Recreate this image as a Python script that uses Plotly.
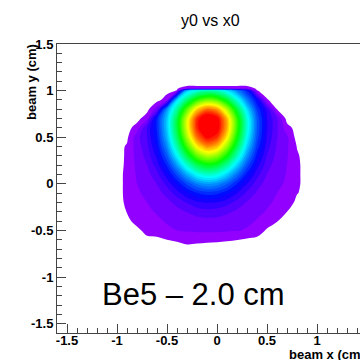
import colorsys
import plotly.graph_objects as go

# ---- data ----
x_bins = [-1.0, -0.9, -0.8, -0.7, -0.6, -0.5, -0.4, -0.3, -0.2, -0.1,
          0.0, 0.1, 0.2, 0.3, 0.4, 0.5, 0.6, 0.7, 0.8, 0.9]
y_bins = [-0.7, -0.6, -0.5, -0.4, -0.3, -0.2, -0.1, 0.0, 0.1, 0.2,
          0.3, 0.4, 0.5, 0.6, 0.7, 0.8, 0.9, 1.0, 1.02, 1.06]

row_m070 = [0, 0, 0, 0, 0, 0, 0, 0, 0, 0, 0, 0, 0, 0, 0, 0, 0, 0, 0, 0]
row_m060 = [0, 0, 0, 0, 0, 1.0, 1.25, 2.0, 1.7, 1.45, 1.35, 1.2, 1.05, 0.6, 0, 0, 0, 0, 0, 0]
row_m050 = [0, 0, 0, 2.3, 3.1, 3.3, 3.5, 3.7, 3.9, 4.0, 4.0, 3.8, 3.6, 3.35, 3.2, 0.45, 0, 0, 0, 0]
row_m040 = [0, 0, 2.3, 3.1, 3.3, 3.6, 4.0, 4.5, 5.0, 5.2, 5.1, 4.7, 4.2, 3.8, 3.4, 3.2, 1.1, 0, 0, 0]
row_m030 = [0, 1.1, 3.1, 3.3, 3.6, 4.2, 5.1, 6.1, 7.0, 7.4, 7.2, 6.5, 5.5, 4.5, 3.8, 3.4, 3.15, 1.0, 0, 0]
row_m020 = [0, 1.5, 3.2, 3.5, 4.1, 5.2, 6.8, 8.7, 10.4, 11.2, 10.8, 9.5, 7.6, 5.8, 4.5, 3.7, 3.3, 3.1, 0, 0]
row_m010 = [0, 1.7, 3.3, 3.8, 4.9, 6.9, 9.7, 13.0, 15.8, 17.2, 16.6, 14.2, 11.0, 7.9, 5.6, 4.2, 3.5, 3.2, 1.15, 0]
row_p000 = [0, 1.7, 3.5, 4.3, 6.1, 9.3, 13.9, 19.2, 23.8, 26.1, 25.1, 21.2, 16.0, 11.0, 7.2, 4.9, 3.8, 3.3, 1.5, 0]
row_p010 = [0, 1.7, 3.8, 5.0, 7.7, 12.5, 19.5, 27.5, 34.6, 38.0, 36.5, 30.6, 22.7, 15.1, 9.4, 5.9, 4.2, 3.4, 1.5, 0]
row_p020 = [0, 1.5, 4.1, 5.9, 9.7, 16.4, 26.3, 37.7, 47.6, 52.5, 50.3, 42.0, 30.8, 20.1, 12.0, 7.1, 4.6, 3.5, 1.5, 0]
row_p030 = [0, 1.4, 4.4, 6.8, 11.8, 20.7, 33.7, 48.7, 61.8, 68.2, 65.4, 54.5, 39.6, 25.5, 14.9, 8.4, 5.2, 3.7, 1.3, 0]
row_p040 = [0, 1.3, 4.7, 7.7, 13.9, 24.8, 40.8, 59.3, 75.4, 83.3, 79.8, 66.4, 48.1, 30.7, 17.7, 9.7, 5.7, 3.9, 0.9, 0]
row_p050 = [0, 0.5, 5.0, 8.4, 15.5, 28.1, 46.4, 67.7, 86.2, 95.2, 91.2, 75.8, 54.8, 34.8, 19.8, 10.7, 6.1, 4.0, 0, 0]
row_p060 = [0, 0, 2.2, 8.7, 16.4, 29.9, 49.5, 72.3, 92.1, 101.8, 97.5, 81.0, 58.5, 37.1, 21.0, 11.2, 6.3, 2.0, 0, 0]
row_p070 = [0, 0, 0, 2.7, 16.2, 29.6, 49.0, 71.5, 91.1, 100.7, 96.5, 80.1, 57.9, 36.7, 20.8, 11.1, 6.2, 0, 0, 0]
row_p080 = [0, 0, 0, 0, 5.0, 25.6, 42.2, 61.4, 78.1, 86.2, 82.7, 68.7, 49.8, 31.7, 18.2, 9.9, 0.95, 0, 0, 0]
row_p090 = [0, 0, 0, 0, 0, 2.5, 31.5, 45.4, 57.6, 63.5, 60.9, 50.8, 37.0, 23.9, 14.0, 1.2, 0, 0, 0, 0]
row_p100 = [0, 0, 0, 0, 0, 0, 1.1, 29.2, 36.7, 40.4, 38.8, 32.5, 24.0, 15.9, 1.1, 0, 0, 0, 0, 0]
row_p102 = [0, 0, 0, 0, 0, 0, 0.8, 4.0, 4.0, 4.0, 4.0, 4.0, 4.0, 4.0, 0.5, 0, 0, 0, 0, 0]
row_p106 = [0, 0, 0, 0, 0, 0, 0, 0, 0, 0, 0, 0, 0, 0, 0, 0, 0, 0, 0, 0]

z_rows = [row_m070, row_m060, row_m050, row_m040, row_m030, row_m020, row_m010,
          row_p000, row_p010, row_p020, row_p030, row_p040, row_p050, row_p060,
          row_p070, row_p080, row_p090, row_p100, row_p102, row_p106]

tick_vals = [-1.5, -1.0, -0.5, 0.0, 0.5, 1.0, 1.5]
tick_text = ["-1.5", "-1", "-0.5", "0", "0.5", "1", "1.5"]

title_text = "y0 vs x0"
x_title = "beam x (cm)"
y_title = "beam y (cm)"
label_text = "Be5 \u2013 2.0 cm"

# ---- ROOT-like "pretty" palette (violet -> red) ----
c_start, c_size, n_levels = 1.0, 2.5, 38
c_end = c_start + (n_levels - 1) * c_size
cscale = [[0.0, "rgb(255,255,255)"]]
for k in range(n_levels):
    hue = 274.4 * (1 - k / (n_levels - 1))
    r, g, b = colorsys.hls_to_rgb(hue / 360.0, 0.5, 1.0)
    cscale.append([(k + 1) / n_levels,
                   "rgb(%d,%d,%d)" % (round(r * 255), round(g * 255), round(b * 255))])

fig = go.Figure()
fig.add_trace(go.Contour(
    x=x_bins, y=y_bins, z=z_rows,
    colorscale=cscale,
    autocontour=False,
    contours=dict(start=c_start, end=c_end, size=c_size,
                  coloring="fill", showlines=False),
    line=dict(width=0),
    showscale=False,
    hoverinfo="skip",
))

FONT = "Liberation Sans, Arial, sans-serif"
tick_font = dict(family=FONT, size=13, color="black", weight="bold")
axis_common = dict(
    showline=True, linecolor="#444", linewidth=1, mirror=True,
    ticks="inside", ticklen=9, tickwidth=1, tickcolor="#444",
    tickvals=tick_vals, ticktext=tick_text, tickfont=tick_font,
    showgrid=False, zeroline=False,
    minor=dict(ticks="inside", ticklen=5, tickwidth=1, tickcolor="#444",
               dtick=0.1, tick0=0, showgrid=False),
)
fig.update_xaxes(range=[-1.6, 1.43], ticklabelstandoff=-5, **axis_common)
fig.update_yaxes(range=[-1.6, 1.5001], **axis_common)

fig.update_layout(
    width=360, height=360,
    margin=dict(l=57, r=0, t=44, b=27),
    paper_bgcolor="white", plot_bgcolor="white",
    showlegend=False,
    annotations=[
        dict(text=title_text, xref="paper", yref="paper", x=0.505, y=1.08,
             xanchor="center", yanchor="middle", showarrow=False,
             font=dict(family=FONT, size=16, color="black")),
        dict(text=y_title, xref="paper", yref="paper", x=-0.0825, y=1.007,
             xanchor="center", yanchor="top", textangle=-90, showarrow=False,
             font=dict(family=FONT, size=13, color="black", weight="bold")),
        dict(text=x_title, xref="paper", yref="paper", x=0.759, y=-0.076,
             xanchor="left", yanchor="middle", showarrow=False,
             font=dict(family=FONT, size=13, color="black", weight="bold")),
        dict(text=label_text, xref="paper", yref="paper", x=0.142, y=0.1315,
             xanchor="left", yanchor="middle", showarrow=False,
             font=dict(family=FONT, size=31, color="black")),
    ],
)

fig.write_html("out.html")
